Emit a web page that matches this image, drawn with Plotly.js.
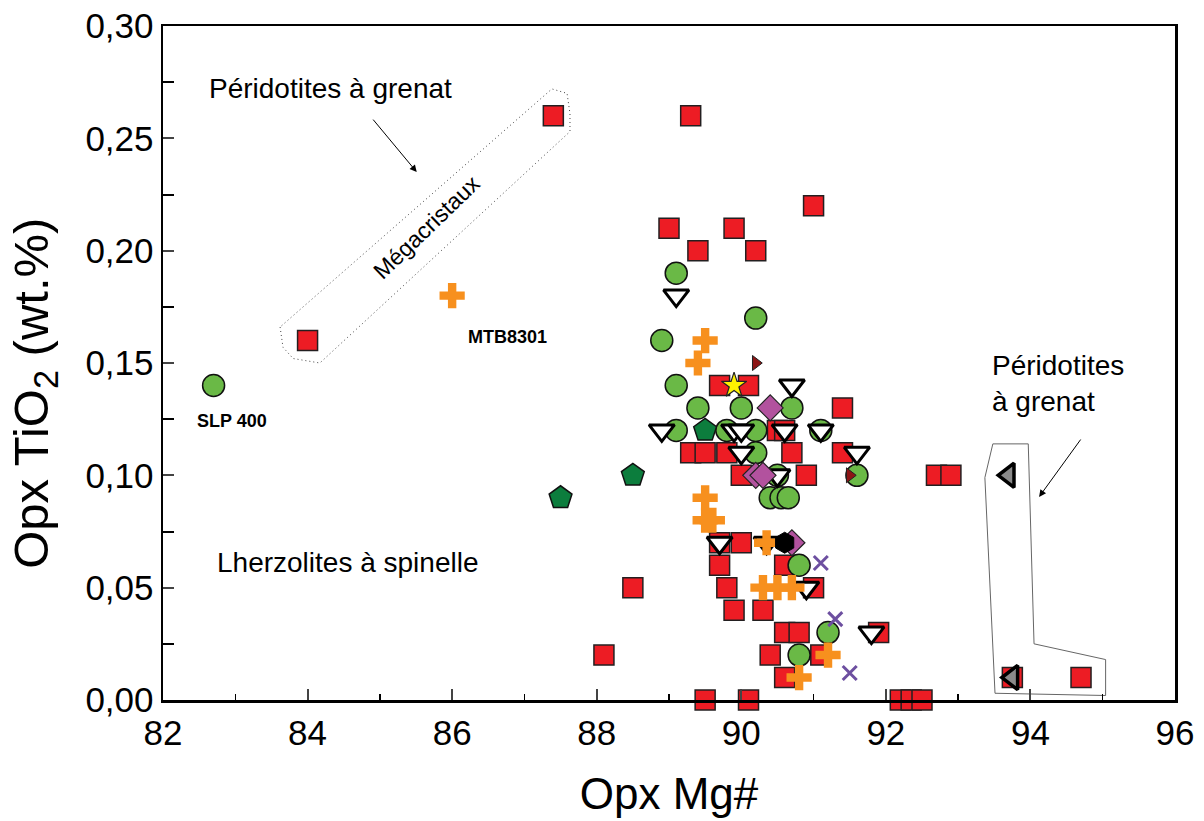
<!DOCTYPE html>
<html><head><meta charset="utf-8">
<script src="https://cdn.plot.ly/plotly-3.0.1.min.js"></script>
<style>body{margin:0;background:#fff}#chart{width:1204px;height:821px}</style>
</head><body><div id="chart"></div>
<script>
// Opx Mg# (x) vs Opx TiO2 wt.% (y)
const squareX = [87.4,84.0,89.3,89.0,89.4,89.9,90.2,91.0,89.7,90.1,91.4,89.3,89.5,89.8,90.5,90.6,90.7,91.4,90.0,90.9,92.7,92.9,89.7,90.0,89.7,89.8,89.9,90.3,90.6,90.8,90.4,90.6,91.1,91.9,90.6,91.0,89.5,90.1,92.2,92.35,92.5,93.75,94.7,88.5,88.1];
const squareY = [0.26,0.16,0.26,0.21,0.20,0.21,0.20,0.22,0.14,0.14,0.13,0.11,0.11,0.11,0.12,0.12,0.11,0.11,0.10,0.10,0.10,0.10,0.07,0.07,0.06,0.05,0.04,0.04,0.03,0.03,0.02,0.01,0.02,0.03,0.06,0.05,0,0,0,0,0,0.01,0.01,0.05,0.02];
const circleX = [82.7,89.1,88.9,90.2,89.1,89.4,90.0,90.7,89.1,89.8,90.2,91.1,90.2,90.5,91.6,90.4,90.55,90.65,90.8,91.2,90.8];
const circleY = [0.14,0.19,0.16,0.17,0.14,0.13,0.13,0.13,0.12,0.12,0.12,0.12,0.11,0.10,0.10,0.09,0.09,0.09,0.06,0.03,0.02];
const triDownX = [89.1,90.7,88.9,89.9,90.0,90.6,91.1,90.0,91.6,90.5,89.7,90.35,90.9,91.8];
const triDownY = [0.18,0.14,0.12,0.12,0.12,0.12,0.12,0.11,0.11,0.10,0.07,0.07,0.05,0.03];
const crossX = [86.0,89.5,89.4,89.5,89.5,89.6,90.35,90.3,90.5,90.7,91.2,90.8];
const crossY = [0.18,0.16,0.15,0.09,0.08,0.08,0.07,0.05,0.05,0.05,0.02,0.01];
const diamondX = [90.4,90.2,90.3,90.7];
const diamondY = [0.13,0.10,0.10,0.07];
const pentagonX = [87.5,88.5,89.5];
const pentagonY = [0.09,0.10,0.12];
const starX = [89.9], starY = [0.14];
const hexX = [90.6], hexY = [0.07];
const xMarkX = [91.1,91.3,91.5];
const xMarkY = [0.061,0.036,0.012];
const triRightX = [90.2,91.5], triRightY = [0.15,0.10];
const triLeftX = [93.7,93.75], triLeftY = [0.10,0.01];

// outline fields (annotation polygons)
const megaOutlineX = [83.62,83.66,83.80,84.17,87.63,87.63,87.59,87.38,83.62];
const megaOutlineY = [0.166,0.157,0.152,0.150,0.253,0.261,0.270,0.272,0.166];
const grtOutlineX = [93.48,93.97,94.05,95.04,95.04,93.51,93.37,93.48];
const grtOutlineY = [0.114,0.114,0.025,0.018,0.002,0.003,0.099,0.114];

const yTicks = [0,0.05,0.10,0.15,0.20,0.25,0.30];
const xTicks = [82,84,86,88,90,92,94,96];

const F = 'Arial, "Liberation Sans", sans-serif';
function sc(x,y,symbol,size,color,lineColor,lineW){
  return {type:'scatter',mode:'markers',x:x,y:y,cliponaxis:false,
    marker:{symbol:symbol,size:size,color:color,line:{color:lineColor,width:lineW}},hoverinfo:'x+y'};
}
const traces = [
  {type:'scatter',mode:'lines',x:megaOutlineX,y:megaOutlineY,line:{color:'#444',width:1,dash:'1px,3px'},hoverinfo:'skip'},
  {type:'scatter',mode:'lines',x:grtOutlineX,y:grtOutlineY,line:{color:'#666',width:1},hoverinfo:'skip'},
  sc(squareX,squareY,'square',20,'#ed1c24','#231f20',1.5),
  sc(circleX,circleY,'circle',22,'#6ab946','#111',1.5),
  sc(triDownX,triDownY,'triangle-down',22,'#ffffff','#000',3),
  sc(crossX,crossY,'cross',21,'#f7901e','#f7901e',0),
  sc(diamondX,diamondY,'diamond',20,'#b2529e','#222',1.2),
  sc(pentagonX,pentagonY,'pentagon',24,'#0c7d3d','#111',1.5),
  sc(starX,starY,'star',19,'#fff200','#222',1.2),
  sc(hexX,hexY,'hexagon',21,'#000','#000',1),
  sc(xMarkX,xMarkY,'x-thin-open',14,'#6d4fa0','#6d4fa0',3),
  sc(triRightX,triRightY,'triangle-right',13,'#8c1515','#222',1),
  sc(triLeftX,triLeftY,'triangle-left',21,'#8a8a8a','#000',3.5)
];

const layout = {
  width:1204,height:821,showlegend:false,
  paper_bgcolor:'#fff',plot_bgcolor:'#fff',
  separators:', ',
  font:{family:F,color:'#000'},
  margin:{l:163,r:29,t:26,b:121},
  xaxis:{range:[82,96],tickvals:xTicks,ticktext:xTicks.map(String),ticks:'inside',ticklen:11,tickwidth:2,
    showline:true,linewidth:2.5,linecolor:'#000',mirror:true,showgrid:false,zeroline:false,
    minor:{dtick:1,ticks:'inside',ticklen:6,tickwidth:1.5,tickcolor:'#000'},
    tickfont:{size:35,family:F},
    title:{text:'Opx Mg#',font:{size:44,family:F},standoff:28}},
  yaxis:{range:[0,0.30],tickvals:yTicks,tickformat:'.2f',ticks:'inside',ticklen:11,tickwidth:2,
    showline:true,linewidth:2.5,linecolor:'#000',mirror:true,showgrid:false,zeroline:false,
    minor:{dtick:0.025,tick0:0,ticks:'inside',ticklen:11,tickwidth:2,tickcolor:'#000'},
    tickfont:{size:35,family:F}},
  annotations:[
    {x:-0.127,y:0.455,xref:'paper',yref:'paper',text:'Opx TiO<sub>2</sub> (wt.%)',showarrow:false,textangle:-90,xanchor:'center',yanchor:'middle',font:{size:49,family:F}},
    {x:82.61,y:0.272,xref:'x',yref:'y',text:'Péridotites à grenat',showarrow:false,xanchor:'left',yanchor:'middle',font:{size:28,family:F}},
    {x:85.51,y:0.235,ax:84.89,ay:0.259,xref:'x',yref:'y',axref:'x',ayref:'y',text:'',showarrow:true,arrowhead:2,arrowsize:1.4,arrowwidth:1,arrowcolor:'#000'},
    {x:85.65,y:0.2105,xref:'x',yref:'y',text:'Mégacristaux',showarrow:false,textangle:-44,font:{size:23,family:F}},
    {x:86.77,y:0.1616,xref:'x',yref:'y',text:'<b>MTB8301</b>',showarrow:false,font:{size:18,family:F}},
    {x:82.95,y:0.124,xref:'x',yref:'y',text:'<b>SLP 400</b>',showarrow:false,font:{size:18,family:F}},
    {x:82.72,y:0.061,xref:'x',yref:'y',text:'Lherzolites à spinelle',showarrow:false,xanchor:'left',yanchor:'middle',font:{size:28,family:F}},
    {x:93.44,y:0.141,xref:'x',yref:'y',text:'Péridotites<br>à grenat',showarrow:false,xanchor:'left',yanchor:'middle',align:'left',font:{size:28,family:F}},
    {x:94.12,y:0.0904,ax:94.71,ay:0.1166,xref:'x',yref:'y',axref:'x',ayref:'y',text:'',showarrow:true,arrowhead:2,arrowsize:1.4,arrowwidth:1,arrowcolor:'#000'}
  ]
};
Plotly.newPlot('chart',traces,layout,{displayModeBar:false,staticPlot:true});
</script></body></html>
